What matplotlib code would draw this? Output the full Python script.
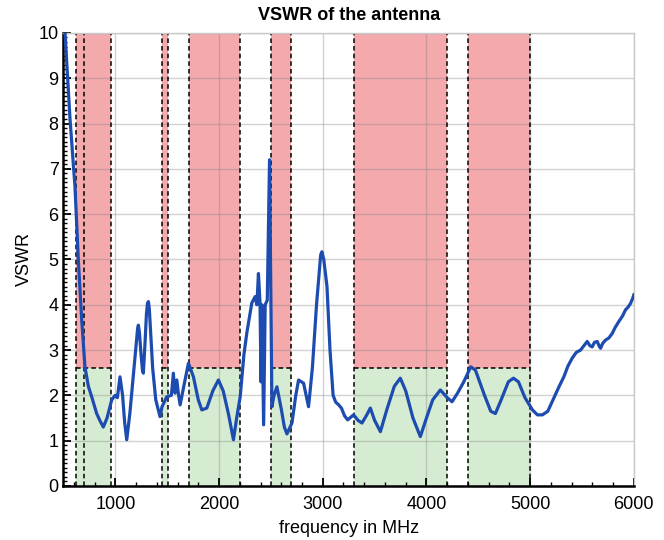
import matplotlib
matplotlib.use("Agg")
import matplotlib.pyplot as plt
from matplotlib.ticker import MultipleLocator

# ---- data ----
freq = [500, 515, 563, 611, 643, 676, 707, 740, 772, 820, 850, 884, 920, 965, 997,
        1020, 1045, 1070, 1090, 1110, 1140, 1180, 1205, 1215, 1222, 1232, 1248, 1262,
        1270, 1285, 1300, 1310, 1319, 1328, 1340, 1360, 1390, 1431, 1450, 1496, 1540,
        1560, 1570, 1576, 1593, 1610, 1625, 1660, 1705, 1753, 1800, 1834, 1882, 1940,
        1994, 2040, 2090, 2139, 2170, 2204, 2240, 2268, 2316, 2348, 2365, 2380, 2395,
        2405, 2413, 2430, 2445, 2465, 2487, 2500, 2510, 2530, 2558, 2600, 2630, 2655,
        2703, 2740, 2767, 2815, 2863, 2900, 2940, 2965, 2980, 2992, 3010, 3041, 3070,
        3100, 3125, 3150, 3180, 3210, 3240, 3297, 3340, 3378, 3420, 3459, 3500, 3556,
        3620, 3690, 3748, 3800, 3870, 3941, 4000, 4060, 4134, 4200, 4247, 4300, 4360,
        4427, 4472, 4560, 4620, 4665, 4720, 4790, 4839, 4887, 4950, 5022, 5070, 5118,
        5170, 5228, 5280, 5325, 5365, 5405, 5445, 5486, 5520, 5550, 5575, 5598, 5620,
        5647, 5665, 5679, 5700, 5727, 5760, 5792, 5820, 5855, 5890, 5920, 5945, 5968,
        5990, 6000]
vswr = [10.6, 10.0, 8.1, 6.6, 5.0, 3.66, 2.63, 2.2, 1.97, 1.6, 1.45, 1.3, 1.5, 1.9, 2.0,
        1.95, 2.41, 2.0, 1.4, 1.02, 1.6, 2.6, 3.2, 3.48, 3.55, 3.4, 2.9, 2.55,
        2.49, 3.1, 3.8, 4.03, 4.07, 3.9, 3.4, 2.6, 1.9, 1.53, 1.75, 1.97, 2.0,
        2.49, 2.1, 2.05, 2.34, 2.0, 1.79, 2.2, 2.71, 2.41, 1.9, 1.68, 1.72, 2.1,
        2.34, 2.1, 1.6, 1.02, 1.5, 1.97, 2.9, 3.38, 4.04, 4.18, 4.0, 4.69, 4.05,
        2.3, 4.0, 1.35, 4.0, 4.1, 7.2, 4.0, 1.75, 2.0, 2.19, 1.7, 1.3, 1.15,
        1.39, 2.0, 2.34, 2.27, 1.75, 2.6, 4.0, 4.7, 5.1, 5.17, 5.0, 4.4, 3.0,
        2.0, 1.85, 1.8, 1.72, 1.55, 1.46, 1.57, 1.45, 1.39, 1.55, 1.72, 1.45, 1.2,
        1.7, 2.2, 2.38, 2.1, 1.5, 1.09, 1.5, 1.9, 2.12, 1.95, 1.86, 2.05, 2.3,
        2.63, 2.56, 2.0, 1.65, 1.6, 1.9, 2.3, 2.38, 2.3, 1.95, 1.68, 1.57, 1.57,
        1.65, 1.94, 2.2, 2.41, 2.65, 2.82, 2.95, 3.0, 3.1, 3.19, 3.1, 3.07, 3.17,
        3.19, 3.09, 3.04, 3.15, 3.22, 3.27, 3.37, 3.5, 3.63, 3.75, 3.89, 3.95, 4.03,
        4.15, 4.22]

band_start = [617, 1452, 1710, 2500, 3300, 4400]
band_end = [960, 1511, 2200, 2690, 4200, 5000]
extra_edges = [698]
vswr_limit = 2.6

x_ticks = [1000, 2000, 3000, 4000, 5000, 6000]
y_ticks = [0, 1, 2, 3, 4, 5, 6, 7, 8, 9, 10]

plt.rcParams["font.family"] = ["Liberation Sans", "DejaVu Sans"]

# ---- figure ----
fig = plt.figure(figsize=(6.64, 5.40), dpi=100)
ax = fig.add_axes([0.0956, 0.100, 0.859, 0.839])

red = "#f4a9ad"
green = "#d6ecd2"
for s, e in zip(band_start, band_end):
    ax.axvspan(s, e, ymin=vswr_limit / 10, ymax=1, facecolor=red, edgecolor="none", zorder=0.5)
    ax.axvspan(s, e, ymin=0, ymax=vswr_limit / 10, facecolor=green, edgecolor="none", zorder=0.5)
    ax.plot([s, e], [vswr_limit, vswr_limit], ls=(0, (3, 2)), color="black", lw=1.1, zorder=2)
for xe in band_start + band_end + extra_edges:
    ax.axvline(xe, ls=(0, (3, 2)), color="black", lw=1.1, zorder=2)

ax.plot(freq, vswr, color="#1d4cb0", lw=2.3, zorder=3, solid_joinstyle="round")

ax.set_xlim(500, 6000)
ax.set_ylim(0, 10)
ax.set_xticks(x_ticks)
ax.set_yticks(y_ticks)
ax.xaxis.set_minor_locator(MultipleLocator(200))
ax.yaxis.set_minor_locator(MultipleLocator(0.1))
ax.grid(True, which="major", color="#808080", alpha=0.35, lw=1.0)
ax.tick_params(which="major", direction="in", length=6, width=1.3, labelsize=13, color="black")
ax.tick_params(axis="x", which="major", pad=7)
ax.tick_params(which="minor", direction="in", length=3, width=1.0, color="black")
ax.tick_params(top=False, right=False, which="both")

for side in ["left", "bottom"]:
    ax.spines[side].set_linewidth(1.8)
    ax.spines[side].set_color("black")
for side in ["top", "right"]:
    ax.spines[side].set_linewidth(1.0)
    ax.spines[side].set_color("#c8c8c8")

ax.set_title("VSWR of the antenna", fontsize=13, fontweight="bold", pad=9)
ax.set_xlabel("frequency in MHz", fontsize=13, labelpad=5)
ax.set_ylabel("VSWR", fontsize=13, labelpad=4)

fig.savefig("out.png", dpi=100)
